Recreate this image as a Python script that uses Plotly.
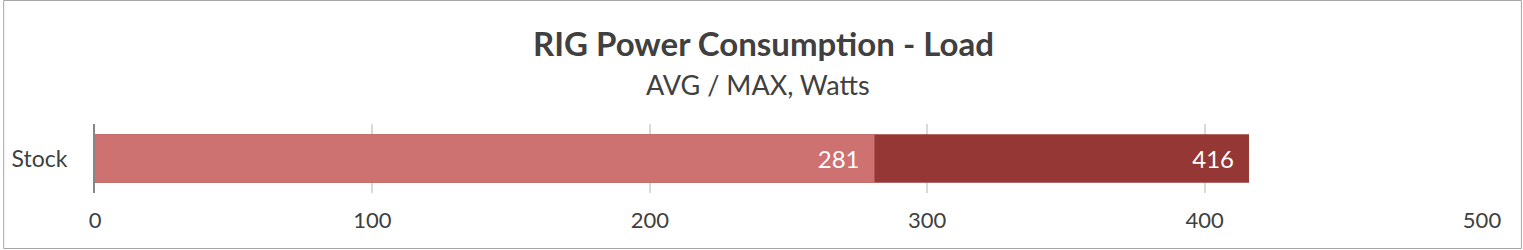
import plotly.graph_objects as go

categories = ["Stock"]
avg_values = [281]
max_values = [416]
x_ticks = [0, 100, 200, 300, 400, 500]

W, H = 1523, 250
L, R, T, B = 92, 41, 124, 57
PW, PH = W - L - R, H - T - B

def px_x(px):
    return (px - L) / PW

def px_y(py):
    return (H - B - py) / PH

FONT = "Lato"
TXT = "#404040"
PAD = "\u2002"

fig = go.Figure()
fig.add_trace(go.Bar(
    y=categories, x=max_values, orientation="h", name="MAX",
    marker=dict(color="#953735", line=dict(width=0)),
    text=[str(v) + PAD for v in max_values], textposition="inside",
    insidetextanchor="end", textfont=dict(color="white", size=24, family=FONT),
))
fig.add_trace(go.Bar(
    y=categories, x=avg_values, orientation="h", name="AVG",
    marker=dict(color="#CD7171", line=dict(width=0)),
    text=[str(v) + PAD for v in avg_values], textposition="inside",
    insidetextanchor="end", textfont=dict(color="white", size=24, family=FONT),
))

fig.update_layout(
    width=W, height=H,
    margin=dict(l=L, r=R, t=T, b=B),
    barmode="overlay", bargap=0.3,
    showlegend=False,
    plot_bgcolor="white", paper_bgcolor="white",
    font=dict(family=FONT, color=TXT),
    annotations=[
        dict(text="<b>RIG Power Consumption - Load</b>", x=px_x(761.5), xref="paper",
             y=px_y(43), yref="paper", xanchor="center", yanchor="middle", showarrow=False,
             font=dict(size=33, family=FONT, color=TXT)),
        dict(text="AVG / MAX, Watts", x=px_x(756), xref="paper", y=px_y(84), yref="paper",
             xanchor="center", yanchor="middle", showarrow=False,
             font=dict(size=27, family=FONT, color=TXT)),
    ],
    xaxis=dict(range=[0, 500], tickvals=x_ticks, ticktext=[str(v) for v in x_ticks],
               showgrid=True, gridcolor="#D9D9D9", gridwidth=2, zeroline=False,
               showline=False, tickfont=dict(size=22, family=FONT, color=TXT),
               ticklabelstandoff=12, fixedrange=True),
    yaxis=dict(showline=True, linecolor="#868686", linewidth=2, showgrid=False,
               tickfont=dict(size=23, family=FONT, color=TXT),
               ticklabelstandoff=21, fixedrange=True),
    shapes=[dict(type="rect", xref="paper", yref="paper",
                 x0=px_x(0.5), x1=px_x(W - 1.5), y0=px_y(0.5), y1=px_y(H - 1.5),
                 line=dict(color="#A6A6A6", width=1), fillcolor="rgba(0,0,0,0)",
                 layer="below")],
)

fig.write_html("out.html")
